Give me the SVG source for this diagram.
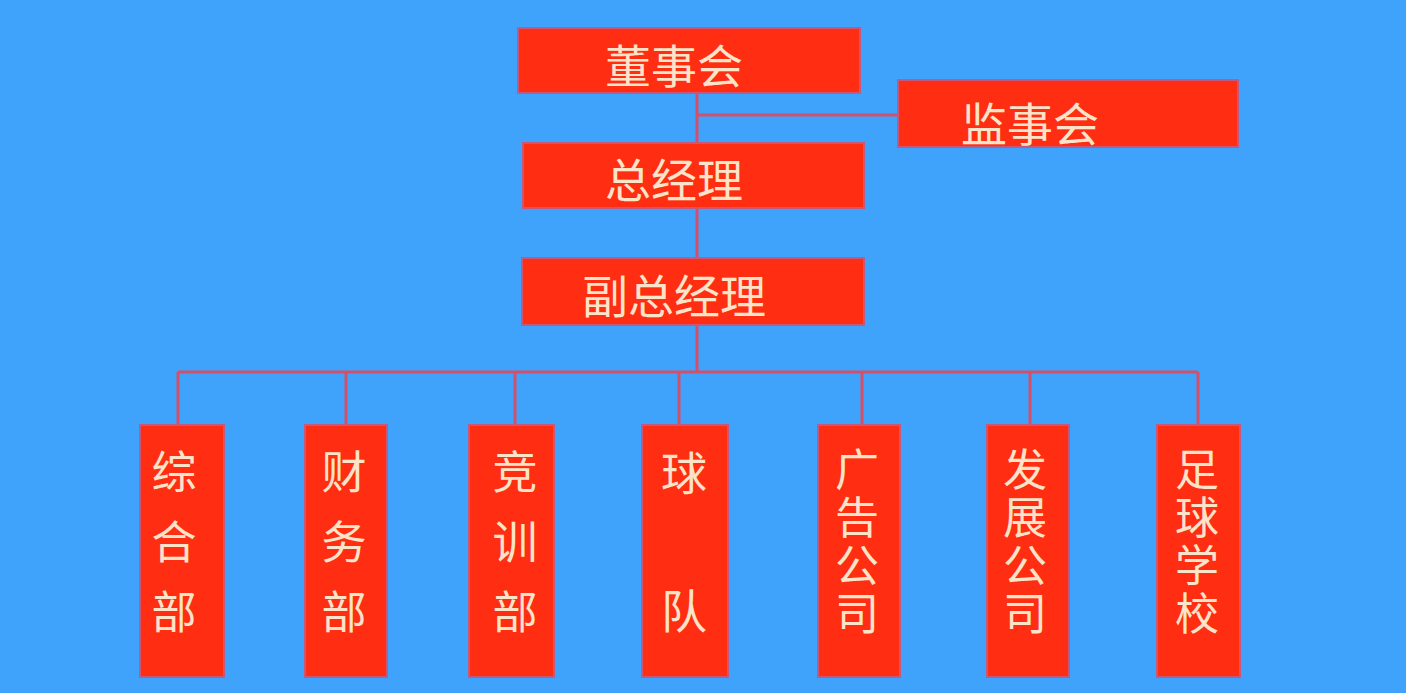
<svg xmlns="http://www.w3.org/2000/svg" width="1406" height="693" viewBox="0 0 1406 693">
<style>
.bg{fill:#3fa3fb}
.box{fill:#ff2d12;stroke:#c8587a;stroke-width:2}
.t{font-family:"Noto Sans CJK SC","Noto Sans",sans-serif;font-size:46px;fill:#fde3c8;text-anchor:middle;dominant-baseline:central}
.v{font-family:"Noto Sans CJK SC","Noto Sans",sans-serif;font-size:45px;fill:#fde3c8;writing-mode:vertical-rl;text-anchor:start}
.ln{stroke:#d3506a;stroke-width:3;fill:none}
</style>
<rect class="bg" x="0" y="0" width="1406" height="693"/>
<g id="connectors">
<path class="ln" d="M697 93V372M697 115H898M178 372H1198M178 372V425M346 372V425M515 372V425M679 372V425M862 372V425M1030 372V425M1198 372V425"/>
</g>
<g id="n-dongshihui"><rect class="box" x="518" y="28" width="342" height="65"/><text class="t" x="674" y="63">董事会</text></g>
<g id="n-jianshihui"><rect class="box" x="898" y="80" width="340" height="67"/><text class="t" x="1030" y="121">监事会</text></g>
<g id="n-zongjingli"><rect class="box" x="523" y="143" width="341" height="65"/><text class="t" x="674" y="177">总经理</text></g>
<g id="n-fuzongjingli"><rect class="box" x="522" y="258" width="342" height="67"/><text class="t" x="674" y="293">副总经理</text></g>
<g id="n-zonghebu"><rect class="box" x="140" y="425" width="84" height="252"/><text class="v" x="174" y="449" style="letter-spacing:25px">综合部</text></g>
<g id="n-caiwubu"><rect class="box" x="305" y="425" width="82" height="252"/><text class="v" x="344" y="449" style="letter-spacing:25px">财务部</text></g>
<g id="n-jingxunbu"><rect class="box" x="469" y="425" width="85" height="252"/><text class="v" x="515" y="449" style="letter-spacing:25px">竞训部</text></g>
<g id="n-qiudui"><rect class="box" x="642" y="425" width="86" height="252"/><text class="t" x="684" y="470">球</text><text class="t" x="684" y="608">队</text></g>
<g id="n-guanggao"><rect class="box" x="818" y="425" width="82" height="252"/><text class="v" x="857" y="447" style="letter-spacing:4px;font-size:44px">广告公司</text></g>
<g id="n-fazhan"><rect class="box" x="987" y="425" width="82" height="252"/><text class="v" x="1025" y="447" style="letter-spacing:4px;font-size:44px">发展公司</text></g>
<g id="n-zuqiuxuexiao"><rect class="box" x="1157" y="425" width="83" height="252"/><text class="v" x="1197" y="447" style="letter-spacing:4px;font-size:44px">足球学校</text></g>
</svg>
